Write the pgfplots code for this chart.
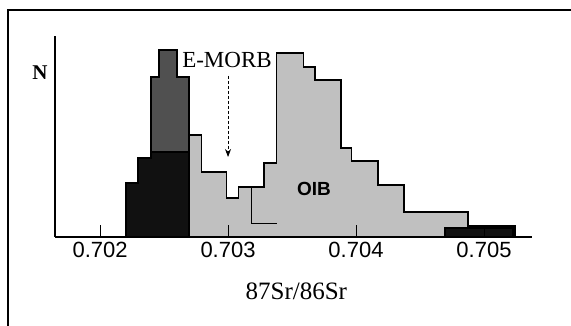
\documentclass[border=0pt]{standalone}
\usepackage{pgfplots}
\pgfplotsset{compat=1.18}
\usepackage{fontspec}
\setmainfont{Liberation Serif}
\setsansfont{Liberation Sans}
\usetikzlibrary{arrows.meta}
\definecolor{oib}{HTML}{C0C0C0}
\definecolor{morb}{HTML}{505050}
\definecolor{nmorb}{HTML}{111111}
\begin{document}
\begin{tikzpicture}[x=1pt,y=1pt]
\path[use as bounding box] (0,0) rectangle (571,326);
\draw[line width=1.2pt] (8,0) -- (8,316) -- (571,316);
\begin{axis}[
 at={(55pt,89pt)}, anchor=south west,
 scale only axis, width=477pt, height=201pt,
 xmin=16.48, xmax=53.75, ymin=0, ymax=201,
 axis x line=bottom, axis y line=left,
 axis line style={-, line width=1.2pt},
 xtick={20,30,40,50}, xticklabels={0.702,0.703,0.704,0.705},
 ytick=\empty,
 tick align=inside, major tick length=12pt,
 tick style={black, line width=0.8pt},
 xticklabel style={font=\sffamily\fontsize{22}{26}\selectfont, yshift=-2pt},
 xlabel={87Sr/86Sr},
 xlabel style={at={(axis description cs:0.506,0)}, anchor=base, yshift=-63pt, font=\fontsize{25}{28}\selectfont},
 ylabel={N},
 every axis y label/.style={at={(axis description cs:0,0.82)}, anchor=center, xshift=-15pt, font=\bfseries\fontsize{21}{24}\selectfont},
 axis on top=true,
 clip=false,
]
% OIB histogram
\addplot[const plot mark left, fill=oib, draw=black, line width=1.2pt] coordinates {
 (26.953,102) (27.945,65) (29.898,39) (30.805,50) (32.813,74) (33.805,184)
 (35.883,170) (36.797,157) (38.828,89) (39.664,76) (41.719,52) (43.75,25)
 (48.75,11) (52.422,11)} \closedcycle;
% internal boundary inside OIB
\addplot[black, line width=1pt] coordinates {(31.85,50) (31.85,13) (33.805,13)};
% MORB histogram (dark grey)
\addplot[const plot mark left, fill=morb, draw=black, line width=1.2pt] coordinates {
 (23.984,160) (24.609,187) (26.016,160) (26.953,160)} \closedcycle;
% black portion
\addplot[const plot mark left, fill=nmorb, draw=black, line width=1.2pt] coordinates {
 (22.031,54) (22.969,79) (23.984,85) (26.953,85)} \closedcycle;
\addplot[const plot mark left, fill=nmorb, draw=black, line width=1.2pt] coordinates {
 (46.953,9) (52.266,9)} \closedcycle;
\node[font=\fontsize{23}{26}\selectfont] at (axis cs:29.92,177) {E-MORB};
\draw[densely dashed, -{Stealth[length=8pt,width=6pt]}, line width=0.8pt] (axis cs:30,161) -- (axis cs:30,80);
\node[font=\sffamily\bfseries\fontsize{19}{22}\selectfont] at (axis cs:36.72,48) {OIB};
\end{axis}
\end{tikzpicture}
\end{document}
